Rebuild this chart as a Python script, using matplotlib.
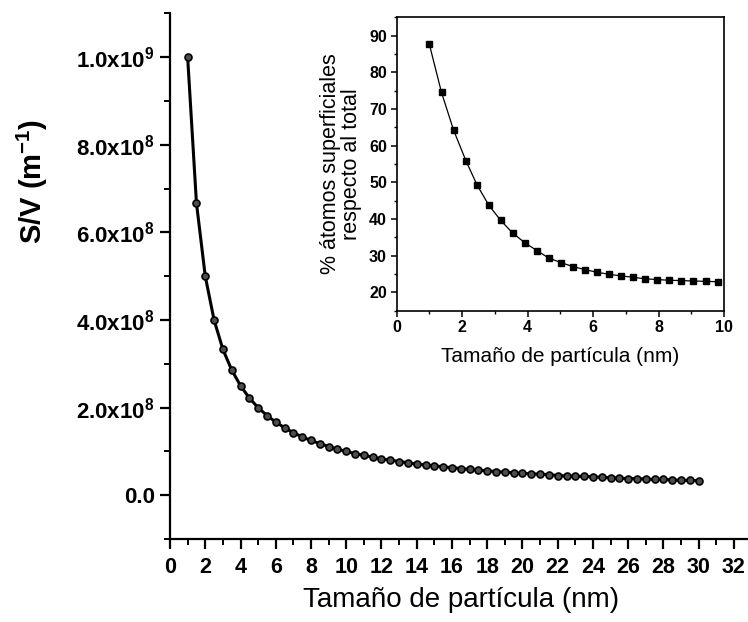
import matplotlib
matplotlib.use('Agg')
import matplotlib.pyplot as plt
from matplotlib.ticker import MultipleLocator, FixedLocator, FixedFormatter

plt.rcParams['font.family'] = ['Liberation Sans', 'DejaVu Sans']
plt.rcParams['mathtext.fontset'] = 'custom'
plt.rcParams['mathtext.rm'] = 'Liberation Sans'
plt.rcParams['mathtext.bf'] = 'Liberation Sans:bold'

# main curve: S/V vs particle size
size_nm = [1.0, 1.5, 2.0, 2.5, 3.0, 3.5, 4.0, 4.5, 5.0, 5.5, 6.0, 6.5, 7.0, 7.5,
           8.0, 8.5, 9.0, 9.5, 10.0, 10.5, 11.0, 11.5, 12.0, 12.5, 13.0, 13.5,
           14.0, 14.5, 15.0, 15.5, 16.0, 16.5, 17.0, 17.5, 18.0, 18.5, 19.0,
           19.5, 20.0, 20.5, 21.0, 21.5, 22.0, 22.5, 23.0, 23.5, 24.0, 24.5,
           25.0, 25.5, 26.0, 26.5, 27.0, 27.5, 28.0, 28.5, 29.0, 29.5, 30.0]
sv_1e8 = [10.0, 6.67, 5.0, 4.0, 3.33, 2.86, 2.5, 2.22, 2.0, 1.82, 1.67, 1.54,
          1.43, 1.33, 1.25, 1.18, 1.11, 1.05, 1.0, 0.95, 0.91, 0.87, 0.83, 0.80,
          0.77, 0.74, 0.71, 0.69, 0.67, 0.65, 0.63, 0.61, 0.59, 0.57, 0.56,
          0.54, 0.53, 0.51, 0.50, 0.49, 0.48, 0.47, 0.45, 0.44, 0.43, 0.43,
          0.42, 0.41, 0.40, 0.39, 0.38, 0.38, 0.37, 0.36, 0.36, 0.35, 0.34,
          0.34, 0.33]
sv = [v * 1e8 for v in sv_1e8]

# inset: % surface atoms
inset_size = [1.0, 1.37, 1.74, 2.12, 2.46, 2.82, 3.18, 3.54, 3.92, 4.30, 4.64,
              5.02, 5.40, 5.75, 6.11, 6.50, 6.85, 7.23, 7.59, 7.94, 8.32, 8.70,
              9.06, 9.44, 9.81]
inset_pct = [87.6, 74.5, 64.2, 55.8, 49.2, 43.7, 39.6, 36.2, 33.5, 31.3, 29.4,
             28.1, 27.0, 26.2, 25.5, 24.9, 24.5, 24.1, 23.7, 23.5, 23.3, 23.2,
             23.1, 23.0, 22.9]

y_ticks = [0, 2e8, 4e8, 6e8, 8e8, 1e9]
y_labels = ['0.0', r'$\mathbf{2.0x10^{8}}$', r'$\mathbf{4.0x10^{8}}$',
            r'$\mathbf{6.0x10^{8}}$', r'$\mathbf{8.0x10^{8}}$',
            r'$\mathbf{1.0x10^{9}}$']

fig = plt.figure(figsize=(7.48, 6.22), dpi=100)
ax = fig.add_axes([0.2273, 0.1334, 0.7727, 0.845])

ax.plot(size_nm, sv, color='black', lw=2.2, marker='o', ms=5,
        mfc='0.3', mec='black', mew=1.2)
ax.set_xlim(0, 32.8)
ax.set_ylim(-1e8, 1.1e9)
ax.spines['top'].set_visible(False)
ax.spines['right'].set_visible(False)
for s in ['left', 'bottom']:
    ax.spines[s].set_linewidth(1.6)

ax.xaxis.set_major_locator(MultipleLocator(2))
ax.xaxis.set_minor_locator(MultipleLocator(1))
ax.yaxis.set_major_locator(FixedLocator(y_ticks))
ax.yaxis.set_major_formatter(FixedFormatter(y_labels))
ax.yaxis.set_minor_locator(MultipleLocator(1e8))
ax.tick_params(which='major', direction='out', length=7, width=1.6, pad=4)
ax.tick_params(which='minor', direction='out', length=4, width=1.4)
ax.tick_params(axis='x', labelsize=15.5, pad=6)
ax.tick_params(axis='y', labelsize=16)
for lab in ax.get_xticklabels() + ax.get_yticklabels():
    lab.set_fontweight('bold')

fig.text(0.043, 0.709, r'S/V (m$^{\mathbf{-1}}$)', rotation=90,
         fontsize=21, fontweight='bold', ha='center', va='center')
fig.text(0.616, 0.035, 'Tamaño de partícula (nm)', fontsize=20,
         ha='center', va='center')

# inset
axi = fig.add_axes([0.5303, 0.5005, 0.4376, 0.4717])
axi.plot(inset_size, inset_pct, color='black', lw=0.9, marker='s', ms=4,
         mfc='black', mec='black')
axi.set_xlim(0, 10)
axi.set_ylim(15, 95)
for s in axi.spines.values():
    s.set_linewidth(1.2)
axi.xaxis.set_major_locator(MultipleLocator(2))
axi.xaxis.set_minor_locator(MultipleLocator(1))
axi.yaxis.set_minor_locator(MultipleLocator(5))
axi.set_yticks([20, 30, 40, 50, 60, 70, 80, 90])
axi.tick_params(which='major', direction='out', length=4, width=1.1,
                labelsize=11.5, pad=3)
axi.tick_params(which='minor', direction='out', length=2, width=1.0)
for lab in axi.get_xticklabels() + axi.get_yticklabels():
    lab.set_fontweight('bold')
axi.set_xlabel('Tamaño de partícula (nm)', fontsize=15, labelpad=8)
axi.set_ylabel('% átomos superficiales\nrespecto al total', fontsize=15.5,
               labelpad=5, linespacing=1.0)

fig.savefig('out.png', dpi=100)
